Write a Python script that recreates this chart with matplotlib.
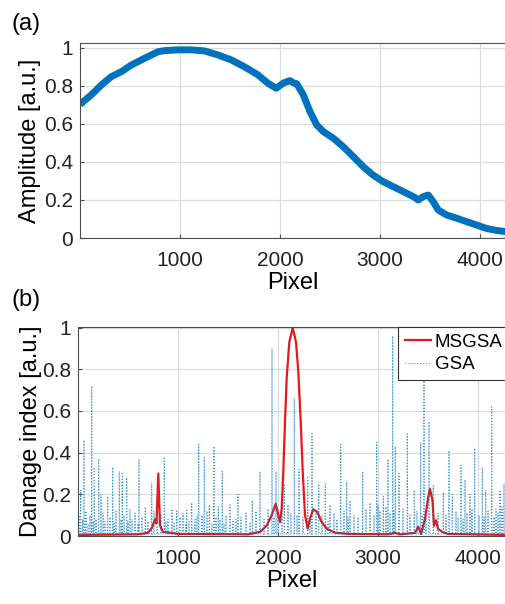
import numpy as np
import matplotlib
matplotlib.use('Agg')
import matplotlib.pyplot as plt

plt.rcParams['font.family'] = ['Liberation Sans', 'DejaVu Sans']

# --- (a) amplitude, centre of the noisy band ---
amp_x = [0, 13, 113, 213, 313, 413, 513, 647, 780, 847, 980, 1113, 1247,
         1380, 1513, 1647, 1780, 1880, 1963, 2030, 2097, 2140, 2167, 2233,
         2300, 2367, 2433, 2533, 2633, 2733, 2833, 2933, 3033, 3133, 3233,
         3333, 3383, 3433, 3483, 3533, 3583, 3667, 3767, 3867, 3967, 4067,
         4167, 4260]
amp_y = [0.70, 0.709, 0.753, 0.805, 0.849, 0.875, 0.91, 0.946, 0.98, 0.986,
         0.99, 0.99, 0.984, 0.963, 0.937, 0.90, 0.858, 0.814, 0.788, 0.814,
         0.828, 0.815, 0.812, 0.753, 0.665, 0.595, 0.56, 0.525, 0.48, 0.428,
         0.375, 0.33, 0.296, 0.27, 0.244, 0.218, 0.20, 0.218, 0.226, 0.19,
         0.147, 0.121, 0.104, 0.086, 0.068, 0.05, 0.04, 0.033]

# --- (b) MSGSA damage index ---
ms_x = [0, 600, 700, 740, 770, 785, 803, 820, 850, 1000, 1700, 1820, 1887,
        1937, 1977, 2003, 2020, 2037, 2053, 2070, 2087, 2113, 2147, 2180,
        2203, 2227, 2247, 2270, 2297, 2320, 2353, 2393, 2437, 2487, 2570,
        2700, 3100, 3170, 3220, 3370, 3403, 3430, 3470, 3500, 3520, 3545,
        3560, 3580, 3600, 3640, 3700, 4280]
ms_y = [0.005, 0.008, 0.015, 0.04, 0.08, 0.06, 0.30, 0.05, 0.02, 0.01,
        0.008, 0.02, 0.05, 0.10, 0.155, 0.10, 0.067, 0.13, 0.31, 0.55, 0.76,
        0.93, 1.0, 0.93, 0.79, 0.55, 0.31, 0.10, 0.035, 0.083, 0.128, 0.115,
        0.067, 0.035, 0.016, 0.01, 0.008, 0.015, 0.008, 0.015, 0.045, 0.01,
        0.08, 0.18, 0.226, 0.17, 0.05, 0.075, 0.035, 0.02, 0.01, 0.005]

# --- (b) GSA spikes: position and height ---
gsa_pk_x = [27, 60, 137, 163, 207, 230, 297, 347, 413, 443, 487, 520, 610,
            673, 737, 863, 940, 987, 1087, 1137, 1207, 1263, 1313, 1360,
            1403, 1443, 1520, 1600, 1743, 1820, 1940, 1980, 2063, 2163, 2210,
            2297, 2340, 2407, 2473, 2520, 2627, 2687, 2720, 2847, 2920, 2987,
            3053, 3100, 3147, 3173, 3210, 3293, 3363, 3427, 3460, 3510, 3553,
            3653, 3710, 3743, 3830, 3870, 3920, 3967, 4043, 4077, 4137, 4180,
            4220, 4260]
gsa_pk_y = [0.22, 0.46, 0.72, 0.33, 0.37, 0.20, 0.19, 0.33, 0.31, 0.30,
            0.28, 0.13, 0.37, 0.14, 0.25, 0.38, 0.13, 0.12, 0.13, 0.16, 0.44,
            0.38, 0.15, 0.43, 0.14, 0.31, 0.15, 0.20, 0.17, 0.31, 0.90, 0.31,
            0.25, 0.66, 0.32, 0.28, 0.49, 0.25, 0.25, 0.15, 0.44, 0.26, 0.17,
            0.31, 0.16, 0.45, 0.19, 0.37, 0.96, 0.43, 0.30, 0.49, 0.22, 0.45,
            0.76, 0.55, 0.24, 0.21, 0.41, 0.20, 0.34, 0.27, 0.20, 0.42, 0.33,
            0.22, 0.62, 0.13, 0.22, 0.25]
# smaller spikes filling the gaps
gsa_sm_x = [12, 45, 80, 100, 120, 150, 180, 250, 270, 320, 360, 380, 430,
            460, 500, 540, 570, 600, 640, 700, 760, 790, 830, 880, 900, 960,
            1020, 1050, 1080, 1110, 1170, 1190, 1240, 1290, 1340, 1380, 1420,
            1460, 1480, 1550, 1580, 1630, 1680, 1720, 1780, 1860, 1900, 1960,
            2000, 2040, 2100, 2130, 2190, 2250, 2320, 2380, 2440, 2500, 2560,
            2590, 2660, 2700, 2760, 2800, 2880, 2960, 3000, 3020, 3080, 3120,
            3160, 3250, 3320, 3390, 3440, 3480, 3600, 3680, 3780, 3800, 3850,
            3890, 3940, 4010, 4060, 4100, 4160, 4200, 4240]
gsa_sm_y = [0.10, 0.08, 0.12, 0.06, 0.10, 0.07, 0.08, 0.11, 0.07, 0.09,
            0.06, 0.12, 0.08, 0.10, 0.07, 0.08, 0.11, 0.06, 0.09, 0.07, 0.12,
            0.05, 0.10, 0.07, 0.08, 0.06, 0.09, 0.11, 0.06, 0.07, 0.08, 0.10,
            0.10, 0.12, 0.06, 0.09, 0.08, 0.06, 0.10, 0.07, 0.08, 0.09, 0.11,
            0.06, 0.12, 0.08, 0.13, 0.09, 0.10, 0.12, 0.15, 0.11, 0.10, 0.09,
            0.08, 0.12, 0.10, 0.07, 0.11, 0.08, 0.12, 0.09, 0.10, 0.09, 0.13,
            0.10, 0.15, 0.12, 0.14, 0.11, 0.12, 0.13, 0.10, 0.12, 0.10, 0.09,
            0.11, 0.10, 0.12, 0.09, 0.08, 0.11, 0.13, 0.10, 0.09, 0.12, 0.09,
            0.11, 0.14]

# build the GSA trace: every spike rises from and falls back to the floor
spikes = sorted(zip(gsa_pk_x + gsa_sm_x, gsa_pk_y + gsa_sm_y))
gsa_x, gsa_y = [0], [0.01]
for px, py in spikes:
    gsa_x += [px - 3, px, px + 3]
    gsa_y += [0.01, py, 0.01]

BLUE = '#0072BD'
RED = '#E3191C'
GRID = '#DCDCDC'
AXC = '#4D4D4D'

fig = plt.figure(figsize=(5.06, 6.04), dpi=100)
ax1 = fig.add_axes([80 / 506, 1 - 238 / 604, 426 / 506, 195 / 604])
ax2 = fig.add_axes([78 / 506, 1 - 536 / 604, 428 / 506, 209 / 604])

ax1.plot(amp_x, amp_y, color=BLUE, lw=5, solid_joinstyle='round',
         solid_capstyle='butt')
ax1.set_xlim(0, 4260)
ax1.set_ylim(0, 1.026)
ax1.set_ylabel('Amplitude [a.u.]', fontsize=17, labelpad=2)
ax1.set_xlabel('Pixel', fontsize=17, labelpad=2)

ax2.plot(ms_x, ms_y, color=RED, lw=1.6, label='MSGSA', zorder=3)
ax2.plot(gsa_x, gsa_y, color=BLUE, lw=0.8, ls=':', alpha=0.75,
         label='GSA', zorder=4)
ax2.set_xlim(0, 4280)
ax2.set_ylim(0, 1.003)
ax2.set_ylabel('Damage index [a.u.]', fontsize=17, labelpad=0)
ax2.set_xlabel('Pixel', fontsize=17, labelpad=2)

leg = ax2.legend(loc='upper left', bbox_to_anchor=(0.748, 1.0),
                 borderaxespad=0, fontsize=13.5, handlelength=1.4,
                 handletextpad=0.2, borderpad=0.35, labelspacing=0.3,
                 fancybox=False, framealpha=1)
leg.get_frame().set_edgecolor('#333333')
leg.get_frame().set_linewidth(0.8)

for ax in (ax1, ax2):
    ax.set_xticks([1000, 2000, 3000, 4000])
    ax.set_yticks([0, 0.2, 0.4, 0.6, 0.8, 1])
    ax.set_yticklabels(['0', '0.2', '0.4', '0.6', '0.8', '1'])
    ax.tick_params(direction='in', length=3, labelsize=15, colors=AXC,
                   labelcolor='#222222')
    ax.tick_params(axis='x', pad=9)
    ax.tick_params(axis='y', pad=5)
    ax.grid(True, color=GRID, lw=0.9)
    ax.set_axisbelow(True)
    for s in ('left', 'bottom', 'top'):
        ax.spines[s].set_color(AXC)
        ax.spines[s].set_linewidth(0.8)
    ax.spines['right'].set_visible(False)

fig.text(12 / 506, 1 - 24 / 604, '(a)', fontsize=17, va='center')
fig.text(12 / 506, 1 - 300 / 604, '(b)', fontsize=17, va='center')

fig.savefig('out.png', dpi=100)
